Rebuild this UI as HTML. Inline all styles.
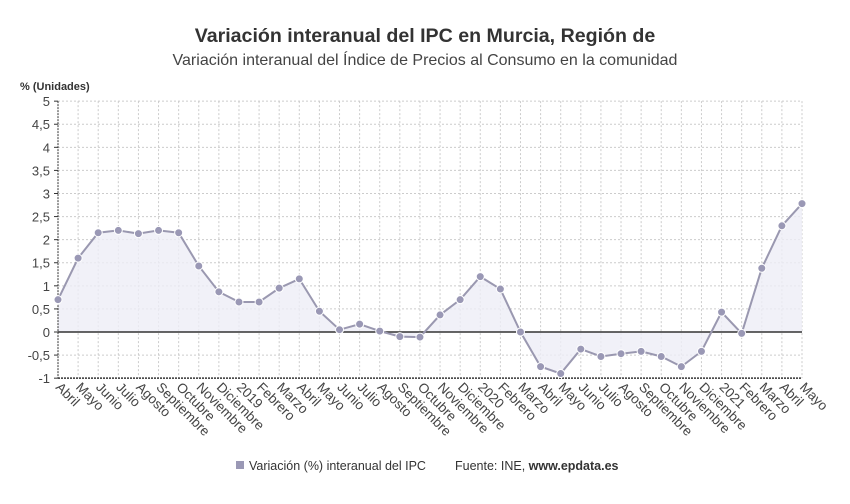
<!DOCTYPE html>
<html><head><meta charset="utf-8"><style>
body{margin:0;background:#fff;width:850px;height:499px;overflow:hidden;font-family:"Liberation Sans",sans-serif}
</style></head><body>
<svg width="850" height="499" xmlns="http://www.w3.org/2000/svg" font-family="Liberation Sans, sans-serif">
<text x="425" y="42" text-anchor="middle" font-size="19.6" font-weight="bold" fill="#333">Variación interanual del IPC en Murcia, Región de</text>
<text x="425" y="65" text-anchor="middle" font-size="16" fill="#444">Variación interanual del Índice de Precios al Consumo en la comunidad</text>
<text x="20" y="90" font-size="11" font-weight="bold" fill="#333">% (Unidades)</text>
<g id="g"></g>
<g font-size="12.5" fill="#333">
<rect x="236" y="461" width="8" height="8" fill="#9a98b5"/>
<text x="249" y="470">Variación (%) interanual del IPC</text>
<text x="455" y="470">Fuente: INE, <tspan font-weight="bold">www.epdata.es</tspan></text>
</g>
</svg>
<script>
const v=[0.7,1.6,2.15,2.2,2.13,2.2,2.15,1.43,0.87,0.65,0.65,0.95,1.15,0.45,0.05,0.17,0.02,-0.1,-0.11,0.37,0.7,1.2,0.93,0,-0.75,-0.9,-0.37,-0.53,-0.47,-0.42,-0.53,-0.75,-0.42,0.43,-0.03,1.38,2.3,2.78];
const L=["Abril","Mayo","Junio","Julio","Agosto","Septiembre","Octubre","Noviembre","Diciembre","2019","Febrero","Marzo","Abril","Mayo","Junio","Julio","Agosto","Septiembre","Octubre","Noviembre","Diciembre","2020","Febrero","Marzo","Abril","Mayo","Junio","Julio","Agosto","Septiembre","Octubre","Noviembre","Diciembre","2021","Febrero","Marzo","Abril","Mayo"];
const x0=58,x1=802,dx=(x1-x0)/37,Y=u=>332-u*46.17;
let s="";
for(let k=-2;k<=10;k++){const u=k/2,y=Y(u);
 if(k!=-2&&k!=0)s+=`<line x1="${x0}" x2="${x1}" y1="${y}" y2="${y}" stroke="#ccc" stroke-dasharray="2,2"/>`;
 s+=`<text x="${x0-8}" y="${y+5}" text-anchor="end" font-size="13" fill="#444">${String(u).replace('.',',')}</text>`;
 s+=`<line x1="${x0-4}" x2="${x0}" y1="${y}" y2="${y}" stroke="#333"/>`;}
for(let i=1;i<38;i++){const x=x0+i*dx;s+=`<line x1="${x}" x2="${x}" y1="${Y(5)}" y2="${Y(-1)}" stroke="#ccc" stroke-dasharray="2,2"/>`;}
let p=v.map((u,i)=>`${x0+i*dx},${Y(u)}`).join(" ");
s+=`<polygon points="${x0},${Y(0)} ${p} ${x1},${Y(0)}" fill="#eeeef6" opacity="0.8"/>`;
s+=`<line x1="${x0}" x2="${x1}" y1="${Y(0)}" y2="${Y(0)}" stroke="#333" stroke-width="1.5"/>`;
s+=`<line x1="${x0}" x2="${x0}" y1="${Y(5)}" y2="${Y(-1)}" stroke="#333" stroke-dasharray="2,1"/>`;
s+=`<line x1="${x0}" x2="${x1}" y1="${Y(-1)}" y2="${Y(-1)}" stroke="#333" stroke-width="1.5" stroke-dasharray="2,1"/>`;
s+=`<polyline points="${p}" fill="none" stroke="#9a98b0" stroke-width="2"/>`;
v.forEach((u,i)=>{s+=`<circle cx="${x0+i*dx}" cy="${Y(u)}" r="4" fill="#9a98b5" stroke="#fff" stroke-width="1"/>`;});
L.forEach((t,i)=>{const x=x0+i*dx-3,y=388;s+=`<text x="${x}" y="${y}" font-size="13.5" fill="#444" transform="rotate(45 ${x} ${y})">${t}</text>`;});
document.getElementById("g").innerHTML=s;
</script>
</body></html>
